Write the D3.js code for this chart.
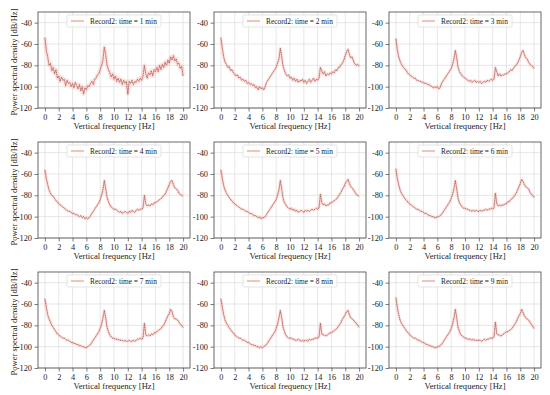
<!DOCTYPE html>
<html>
<head>
<meta charset="utf-8">
<script src="https://cdn.jsdelivr.net/npm/d3@7"></script>
<style>
  body { margin: 0; background: #fff; }
  svg { display: block; font-family: "Liberation Serif", "DejaVu Serif", serif; }
</style>
</head>
<body>
<svg id="chart"></svg>
<script>
const width = 550,
    height = 395;

// frequency grid, 0..20 Hz every 0.2 Hz
const freqStep = 0.2;
const xTicks = [0, 2, 4, 6, 8, 10, 12, 14, 16, 18, 20];
const yTicks = [-120, -100, -80, -60, -40];
const labels = [
    "Record2: time = 1 min", "Record2: time = 2 min", "Record2: time = 3 min",
    "Record2: time = 4 min", "Record2: time = 5 min", "Record2: time = 6 min",
    "Record2: time = 7 min", "Record2: time = 8 min", "Record2: time = 9 min",
];

const psd1 = [
    -54, -66, -72, -80, -78, -85, -82, -88, -84, -92,
    -90, -95, -91, -94, -93, -99, -94, -97, -96, -100,
    -97, -101, -96, -99, -102, -98, -104, -100, -107, -101,
    -103, -99, -100, -97, -95, -98, -93, -92, -89, -88,
    -84, -80, -75, -63, -70, -80, -84, -87, -91, -88,
    -93, -90, -95, -92, -96, -93, -98, -94, -97, -95,
    -107, -95, -97, -94, -98, -95, -96, -93, -95, -92,
    -94, -90, -80, -88, -92, -87, -89, -85, -90, -84,
    -86, -82, -86, -80, -84, -79, -82, -77, -80, -75,
    -78, -72, -75, -71, -76, -74, -79, -78, -83, -81,
    -90,
];
const psd2 = [
    -54, -64, -72, -77, -79, -82, -81, -85, -84, -87,
    -88, -90, -89, -92, -91, -94, -93, -95, -94, -97,
    -96, -98, -97, -99, -98, -101, -100, -103, -100, -102,
    -101, -103, -100, -96, -94, -92, -90, -88, -86, -84,
    -82, -78, -74, -64, -72, -81, -85, -88, -90, -89,
    -92, -91, -94, -92, -95, -93, -96, -94, -95, -93,
    -96, -94, -97, -95, -93, -96, -94, -92, -95, -93,
    -94, -92, -82, -85, -88, -86, -90, -88, -89, -87,
    -88, -86, -87, -84, -85, -82, -82, -79, -78, -75,
    -71, -67, -65, -70, -73, -72, -76, -79, -80, -79,
    -81,
];
const psd3 = [
    -55, -65, -72, -76, -79, -81, -83, -84, -86, -88,
    -89, -90, -91, -92, -92, -94, -94, -95, -95, -96,
    -96, -97, -97, -98, -98, -99, -100, -101, -100, -101,
    -100, -102, -101, -97, -95, -93, -91, -89, -87, -85,
    -83, -79, -74, -66, -73, -82, -86, -88, -90, -91,
    -92, -93, -94, -95, -94, -96, -95, -94, -96, -95,
    -96, -95, -97, -96, -95, -96, -94, -95, -94, -93,
    -94, -93, -82, -86, -90, -88, -90, -89, -89, -88,
    -88, -87, -86, -84, -85, -83, -81, -80, -78, -75,
    -72, -68, -66, -70, -73, -74, -77, -79, -80, -81,
    -83,
];
const psd4 = [
    -56, -64, -70, -75, -78, -80, -81, -83, -85, -86,
    -88, -89, -90, -91, -92, -93, -94, -95, -95, -96,
    -97, -97, -98, -98, -99, -100, -99, -101, -100, -102,
    -101, -102, -101, -99, -97, -95, -93, -91, -89, -87,
    -84, -80, -75, -66, -74, -82, -86, -89, -91, -92,
    -93, -93, -94, -95, -96, -95, -97, -96, -95, -96,
    -97, -95, -96, -94, -95, -96, -94, -93, -94, -93,
    -93, -92, -80, -88, -90, -89, -90, -88, -89, -87,
    -87, -86, -85, -84, -83, -82, -80, -79, -76, -73,
    -70, -67, -66, -70, -73, -74, -75, -78, -79, -80,
    -81,
];
const psd5 = [
    -56, -64, -71, -75, -78, -80, -82, -84, -85, -87,
    -88, -89, -90, -91, -92, -93, -93, -94, -95, -95,
    -96, -97, -97, -98, -99, -99, -100, -101, -100, -102,
    -101, -101, -100, -98, -96, -94, -92, -90, -88, -86,
    -84, -80, -75, -66, -74, -83, -87, -89, -91, -92,
    -93, -92, -94, -93, -95, -94, -96, -95, -94, -95,
    -96, -94, -95, -94, -95, -94, -93, -94, -93, -92,
    -93, -92, -79, -87, -89, -88, -90, -89, -89, -87,
    -87, -86, -85, -84, -83, -81, -79, -77, -74, -72,
    -69, -67, -65, -69, -72, -73, -75, -77, -79, -80,
    -81,
];
const psd6 = [
    -55, -64, -70, -75, -78, -80, -82, -84, -85, -87,
    -88, -89, -90, -91, -92, -93, -93, -94, -95, -95,
    -96, -97, -97, -98, -99, -99, -100, -100, -101, -101,
    -100, -100, -99, -98, -96, -94, -92, -90, -88, -86,
    -83, -79, -74, -66, -74, -83, -87, -89, -91, -92,
    -92, -93, -93, -94, -94, -95, -94, -95, -94, -95,
    -95, -94, -95, -94, -94, -93, -94, -93, -93, -92,
    -93, -92, -78, -88, -90, -89, -90, -89, -89, -88,
    -88, -86, -86, -84, -83, -82, -80, -78, -75, -72,
    -69, -65, -67, -70, -72, -73, -74, -77, -79, -80,
    -82,
];
const psd7 = [
    -55, -63, -70, -74, -77, -80, -82, -84, -86, -88,
    -89, -90, -91, -92, -92, -93, -94, -94, -95, -96,
    -96, -97, -97, -98, -98, -99, -99, -100, -100, -101,
    -101, -100, -99, -98, -96, -94, -92, -90, -88, -86,
    -83, -79, -73, -66, -73, -82, -86, -89, -91, -92,
    -92, -93, -93, -93, -94, -94, -94, -95, -94, -95,
    -95, -94, -95, -95, -94, -95, -94, -93, -93, -92,
    -93, -92, -78, -89, -90, -89, -90, -88, -89, -87,
    -87, -86, -85, -84, -83, -81, -80, -77, -74, -71,
    -69, -65, -67, -72, -74, -74, -75, -77, -79, -80,
    -82,
];
const psd8 = [
    -55, -63, -70, -75, -78, -80, -82, -84, -86, -87,
    -89, -90, -91, -92, -92, -93, -94, -94, -95, -96,
    -96, -97, -98, -98, -99, -99, -100, -100, -101, -100,
    -101, -100, -99, -98, -96, -94, -92, -90, -88, -86,
    -83, -79, -73, -66, -73, -82, -86, -89, -91, -92,
    -92, -92, -93, -93, -94, -94, -93, -94, -95, -94,
    -95, -94, -94, -95, -93, -94, -93, -93, -92, -92,
    -92, -91, -78, -88, -89, -89, -90, -89, -88, -87,
    -87, -86, -85, -84, -83, -81, -79, -77, -74, -72,
    -70, -67, -66, -70, -73, -74, -75, -77, -78, -80,
    -82,
];
const psd9 = [
    -54, -63, -70, -75, -78, -80, -82, -84, -86, -87,
    -89, -90, -91, -92, -92, -93, -94, -94, -95, -96,
    -96, -97, -98, -98, -99, -99, -100, -100, -101, -101,
    -100, -100, -99, -98, -96, -94, -92, -90, -88, -86,
    -83, -79, -73, -65, -73, -82, -86, -89, -90, -91,
    -92, -92, -93, -93, -93, -94, -93, -94, -94, -94,
    -94, -94, -95, -94, -93, -94, -93, -93, -92, -92,
    -92, -91, -77, -88, -89, -89, -90, -89, -88, -87,
    -86, -86, -85, -84, -83, -81, -79, -77, -74, -71,
    -69, -65, -68, -71, -73, -74, -75, -77, -79, -81,
    -83,
];
const series = [psd1, psd2, psd3, psd4, psd5, psd6, psd7, psd8, psd9];

// panel frames
const colLeft = [38, 214, 389],
    rowTop = [12, 142, 272],
    panelW = 152,
    panelH = 96;

const lineColor = "#e07a6e";

const svg = d3.select("#chart").attr("width", width).attr("height", height);

const xScale = d3.scaleLinear().domain([-1, 21]).range([0, panelW]);
const yScale = d3.scaleLinear().domain([-120, -30]).range([panelH, 0]);

const line = d3
    .line()
    .x((d, i) => xScale(i * freqStep))
    .y((d) => yScale(d));

// shrink/grow a text node so it spans about `target` px
const fitText = (sel, base, target) => {
    sel.style("font-size", base + "px");
    const w = sel.node().getComputedTextLength();
    sel.style("font-size", ((base * target) / w).toFixed(2) + "px");
};

series.forEach((values, k) => {
    const col = k % 3,
        row = Math.floor(k / 3);
    const g = svg
        .append("g")
        .attr("transform", `translate(${colLeft[col]}, ${rowTop[row]})`);

    // grid
    g.selectAll(".vgrid")
        .data(xTicks)
        .enter()
        .append("line")
        .attr("x1", (d) => xScale(d))
        .attr("x2", (d) => xScale(d))
        .attr("y1", 0)
        .attr("y2", panelH)
        .attr("stroke", "#dcdcdc")
        .attr("stroke-width", 0.7);
    g.selectAll(".hgrid")
        .data(yTicks)
        .enter()
        .append("line")
        .attr("x1", 0)
        .attr("x2", panelW)
        .attr("y1", (d) => yScale(d))
        .attr("y2", (d) => yScale(d))
        .attr("stroke", "#dcdcdc")
        .attr("stroke-width", 0.7);

    // spectrum: pale haze, red line, dark dotted overlay
    g.append("path")
        .datum(values)
        .attr("d", line)
        .attr("fill", "none")
        .attr("stroke", "#f4a3a3")
        .attr("stroke-width", k === 0 ? 4 : 3)
        .attr("stroke-opacity", 0.3)
        .attr("stroke-linejoin", "round");
    g.append("path")
        .datum(values)
        .attr("d", line)
        .attr("fill", "none")
        .attr("stroke", lineColor)
        .attr("stroke-width", 0.9)
        .attr("stroke-opacity", 0.75);
    g.append("path")
        .datum(values)
        .attr("d", line)
        .attr("fill", "none")
        .attr("stroke", "#6e4a3e")
        .attr("stroke-width", 0.5)
        .attr("stroke-dasharray", "1,1.2");

    // axes
    const xAxis = d3.axisBottom(xScale).tickValues(xTicks).tickSize(3.5).tickPadding(2.5);
    const yAxis = d3
        .axisLeft(yScale)
        .tickValues(yTicks)
        .tickSize(3.5)
        .tickPadding(2.5)
        .tickFormat((d) => d3.format("d")(d).replace("−", "-"));

    const gx = g.append("g").attr("transform", `translate(0, ${panelH})`).call(xAxis);
    const gy = g.append("g").call(yAxis);
    [gx, gy].forEach((a) => {
        a.select(".domain").remove();
        a.selectAll(".tick line").attr("stroke", "#444").attr("stroke-width", 0.7);
        a.selectAll(".tick text")
            .attr("fill", "#222")
            .style("font-family", "Liberation Serif, serif")
            .style("font-size", "8.3px");
    });

    // frame
    g.append("rect")
        .attr("width", panelW)
        .attr("height", panelH)
        .attr("fill", "none")
        .attr("stroke", "#444")
        .attr("stroke-width", 0.8);

    // x label
    const xl = g.append("text")
        .attr("x", panelW / 2)
        .attr("y", panelH + 20.5)
        .attr("text-anchor", "middle")
        .attr("fill", "#222")
        .text("Vertical frequency [Hz]");
    fitText(xl, 9, 81);

    // y label, first column only
    if (col === 0) {
        const yl = g.append("text")
            .attr("transform", `translate(${-21}, ${panelH / 2 + 2}) rotate(-90)`)
            .attr("text-anchor", "middle")
            .attr("fill", "#222")
            .text("Power spectral density [dB/Hz]");
        fitText(yl, 9, 107);
    }

    // legend
    const legW = 94,
        legH = 12;
    const leg = g.append("g").attr("transform", `translate(${(panelW - legW) / 2}, 3)`);
    leg.append("rect")
        .attr("width", legW)
        .attr("height", legH)
        .attr("rx", 1.5)
        .attr("fill", "#fff")
        .attr("fill-opacity", 0.85)
        .attr("stroke", "#d8d8d8")
        .attr("stroke-width", 0.7);
    leg.append("line")
        .attr("x1", 4)
        .attr("x2", 17)
        .attr("y1", legH / 2)
        .attr("y2", legH / 2)
        .attr("stroke", lineColor)
        .attr("stroke-width", 0.9);
    const lt = leg.append("text")
        .attr("x", 23)
        .attr("y", legH / 2)
        .attr("dy", "0.35em")
        .attr("fill", "#222")
        .text(labels[k]);
    fitText(lt, 7, 67);
});
</script>
</body>
</html>
